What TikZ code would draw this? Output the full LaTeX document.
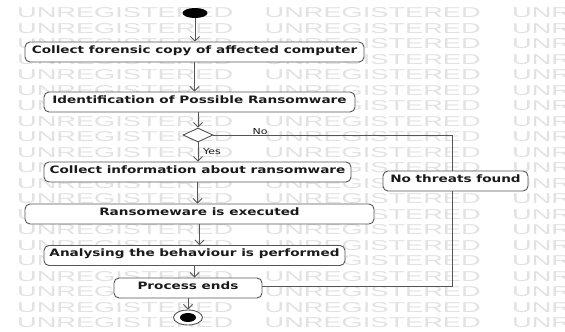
\documentclass[tikz,border=0pt]{standalone}
\usepackage{fontspec}
\usepackage{graphicx}
\usetikzlibrary{shapes.geometric,arrows.meta}
\newfontfamily\boxfont{DejaVu Sans}
\newfontfamily\wmfont{Liberation Sans}
\newcommand{\sq}[1]{\scalebox{1}[0.75]{#1}}
\definecolor{linegray}{HTML}{555555}
\definecolor{wmgray}{HTML}{E2E2E2}
\definecolor{txtc}{HTML}{1A1A1A}
\begin{document}
\begin{tikzpicture}[x=1pt,y=-1pt,
  box/.style={draw=linegray, line width=0.9pt, rounded corners=5pt, fill=white,
    inner xsep=0pt, inner ysep=3.5pt, text height=7.5pt, text depth=5.5pt,
    font=\boxfont\bfseries\fontsize{13.6}{14}\selectfont, text=txtc},
  ln/.style={draw=linegray, line width=0.9pt},
  arr/.style={ln, -{Straight Barb[length=4.5pt,width=9pt]}},
  lab/.style={inner sep=0pt, font=\boxfont\fontsize{11}{12}\selectfont, text=txtc},
  wm/.style={inner sep=0pt, text=wmgray, anchor=west}]
\useasboundingbox (0,0) rectangle (565,332);
\fill[white] (0,0) rectangle (565,332);
% watermark
\begin{scope}
\clip (0,0) rectangle (565,332);
\foreach \k in {0,...,20}{
  \foreach \x [count=\i] in {17,264.5,512}{
    \node[wm] (wm-\k-\i) at (\x,{13+15.5*\k}) {\resizebox{216pt}{10pt}{\wmfont UNREGISTERED}};
  }
}
\end{scope}
% nodes
\node[ellipse, fill=black, inner sep=0pt, minimum width=25pt, minimum height=10pt] (start) at (195,13) {};
\node[box, minimum width=339pt] (box1) at (194.5,52) {\sq{Collect forensic copy of affected computer}};
\node[box, minimum width=311pt] (box2) at (199.5,102) {\sq{Identification of Possible Ransomware}};
\node[diamond, draw=linegray, line width=0.9pt, fill=white, inner sep=0pt, minimum width=30pt, minimum height=14pt] (dia) at (198,135) {};
\node[box, minimum width=307pt] (box3) at (197.5,172) {\sq{Collect information about ransomware}};
\node[box, minimum width=349pt] (box4) at (199.5,214) {\sq{Ransomeware is executed}};
\node[box, minimum width=301pt] (box5) at (194.5,255.5) {\sq{Analysing the behaviour is performed}};
\node[box, minimum width=148pt] (box6) at (188,288) {\sq{Process ends}};
\node[box, minimum width=145pt] (noth) at (455.5,181) {\sq{No threats found}};
\node[ellipse, draw=linegray, line width=0.9pt, fill=white, inner sep=0pt, minimum width=29pt, minimum height=15pt] (end) at (188,317.5) {};
\node[ellipse, fill=black, inner sep=0pt, minimum width=16pt, minimum height=9pt] (endin) at (end) {};
% connectors
\draw[arr] (start.south) -- (start.south |- box1.north);
\draw[arr] (box1.south) -- (box1.south |- box2.north);
\draw[arr] (dia.north |- box2.south) -- (dia.north);
\draw[arr] (dia.south) -- (dia.south |- box3.north);
\draw[arr] (box3.south) -- (box3.south |- box4.north);
\draw[arr] (box4.south) -- (box4.south |- box5.north);
\draw[arr] (box5.south) -- (box5.south |- box6.north);
\draw[arr] (box6.south) -- (end.north);
\coordinate (c1) at (452,135);
\coordinate (c2) at (452,286);
\draw[ln] (dia.east) -- (c1) -- (c1 |- noth.north);
\draw[ln] (c1 |- noth.south) -- (c2) -- (c2 -| box6.east);
\node[lab] (lno) at (260,132) {\sq{No}};
\node[lab, anchor=west] (lyes) at (203,152) {\sq{Yes}};
\end{tikzpicture}
\end{document}
